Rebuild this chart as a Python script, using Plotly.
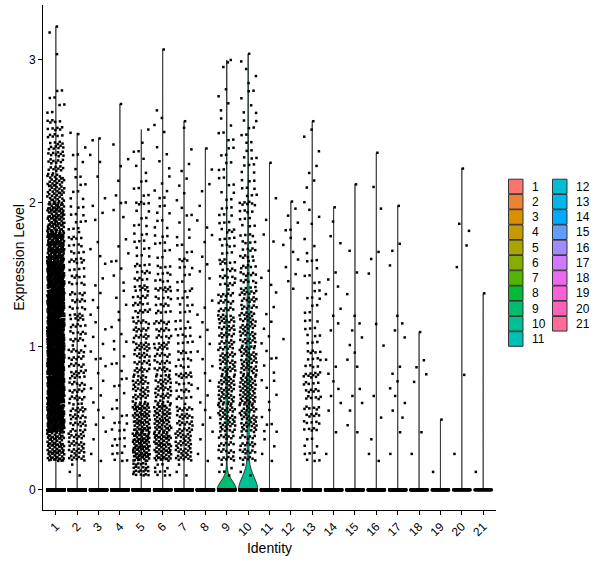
import math
import numpy as np
import plotly.graph_objects as go

# ---------------- data ----------------
clusters = [str(i) for i in range(1, 22)]
bin_edges = [round(0.2 * i, 2) for i in range(18)]  # 0.0 .. 3.4, 17 bins

# number of non-zero cells per 0.2-wide expression bin, per cluster
counts = {
    "1":  [0, 80, 170, 200, 210, 210, 195, 170, 130, 90, 55, 35, 22, 8, 0, 2, 0],
    "2":  [3, 40, 35, 30, 28, 25, 22, 18, 18, 12, 8, 5, 1, 0, 0, 0, 0],
    "3":  [0, 3, 4, 4, 5, 4, 4, 3, 3, 3, 2, 2, 1, 0, 0, 0, 0],
    "4":  [0, 12, 10, 6, 5, 5, 4, 5, 3, 3, 3, 2, 1, 0, 0, 0, 0],
    "5":  [25, 90, 70, 40, 35, 30, 25, 20, 12, 10, 8, 5, 1, 0, 0, 0, 0],
    "6":  [10, 70, 60, 40, 30, 25, 20, 16, 10, 8, 6, 4, 3, 1, 0, 0, 0],
    "7":  [3, 45, 35, 20, 18, 15, 12, 10, 8, 5, 4, 3, 1, 0, 0, 0, 0],
    "8":  [0, 3, 4, 4, 4, 4, 3, 3, 3, 3, 2, 1, 0, 0, 0, 0, 0],
    "9":  [5, 30, 45, 45, 40, 35, 28, 22, 15, 12, 8, 8, 6, 4, 2, 0, 0],
    "10": [3, 30, 45, 50, 45, 40, 35, 25, 18, 14, 12, 10, 8, 6, 4, 0, 0],
    "11": [0, 4, 6, 5, 5, 4, 3, 3, 2, 1, 1, 0, 0, 0, 0, 0, 0],
    "12": [0, 0, 0, 0, 0, 1, 0, 4, 4, 5, 0, 0, 0, 0, 0, 0, 0],
    "13": [0, 10, 22, 22, 18, 12, 9, 7, 4, 3, 3, 3, 2, 0, 0, 0, 0],
    "14": [0, 1, 2, 4, 3, 2, 3, 3, 2, 1, 0, 0, 0, 0, 0, 0, 0],
    "15": [0, 0, 3, 3, 3, 4, 2, 1, 1, 0, 0, 0, 0, 0, 0, 0, 0],
    "16": [0, 3, 1, 1, 0, 2, 0, 1, 2, 1, 1, 0, 0, 0, 0, 0, 0],
    "17": [0, 1, 3, 4, 2, 3, 1, 1, 2, 0, 0, 0, 0, 0, 0, 0, 0],
    "18": [0, 1, 1, 1, 3, 0, 0, 0, 0, 0, 0, 0, 0, 0, 0, 0, 0],
    "19": [1, 0, 0, 0, 0, 0, 0, 0, 0, 0, 0, 0, 0, 0, 0, 0, 0],
    "20": [0, 1, 0, 0, 1, 0, 0, 1, 1, 2, 0, 0, 0, 0, 0, 0, 0],
    "21": [1, 0, 0, 0, 0, 0, 0, 0, 0, 0, 0, 0, 0, 0, 0, 0, 0],
}
# highest value per cluster (top of each violin)
max_values = [3.23, 2.48, 2.45, 2.69, 2.42, 3.07, 2.57, 2.38, 2.98, 3.04, 2.28,
              2.01, 2.57, 1.97, 2.13, 2.35, 1.98, 1.10, 0.49, 2.24, 1.37]
# number of cells with zero expression per cluster
zero_counts = [800, 600, 500, 500, 600, 500, 450, 400, 400, 350, 300,
               250, 250, 200, 200, 150, 150, 120, 100, 80, 60]

# ---------------- style ----------------
bandwidths = [0.004] * 21
bandwidths[8] = 0.06
bandwidths[9] = 0.09
JITTER = 0.8
VWIDTH = 0.9
A1, A2 = 0.7548776662466927, 0.5698402909980532  # R2 low-discrepancy sequence


def hcl_hex(h, c=100.0, l=65.0):
    Xn, Yn, Zn = 95.047, 100.0, 108.883
    un = 4 * Xn / (Xn + 15 * Yn + 3 * Zn)
    vn = 9 * Yn / (Xn + 15 * Yn + 3 * Zn)
    hr = math.radians(h)
    u, v = c * math.cos(hr), c * math.sin(hr)
    Y = Yn * ((l + 16) / 116) ** 3 if l > 8 else Yn * l / 903.3
    up = u / (13 * l) + un
    vp = v / (13 * l) + vn
    X = 9.0 * Y * up / (4 * vp)
    Z = -X / 3 - 5 * Y + 3 * Y / vp
    X, Y, Z = X / 100, Y / 100, Z / 100
    r = 3.240479 * X - 1.537150 * Y - 0.498535 * Z
    g = -0.969256 * X + 1.875992 * Y + 0.041556 * Z
    b = 0.055648 * X - 0.204043 * Y + 1.057311 * Z

    def gam(t):
        t = 12.92 * t if t <= 0.0031308 else 1.055 * t ** (1 / 2.4) - 0.055
        return int(round(min(max(t, 0), 1) * 255))

    return "#%02X%02X%02X" % (gam(r), gam(g), gam(b))


n = len(clusters)
hues = [15 + 360 * i / n for i in range(n)]
colors = [hcl_hex(h) for h in hues]

fig = go.Figure()

all_x, all_y = [], []
for k, cl in enumerate(clusters):
    pos = k + 1
    vals, xs = [], []
    for i in range(zero_counts[k]):
        vals.append(0.0)
        xs.append(pos + ((i + 0.5) / zero_counts[k] - 0.5) * JITTER)
    j = 0
    for b, cnt in enumerate(counts[cl]):
        lo, hi = bin_edges[b], bin_edges[b + 1]
        if b == 0:
            lo = 0.1
        for i in range(cnt):
            j += 1
            fy = (0.5 + j * A1) % 1.0
            fx = (0.5 + j * A2) % 1.0
            vals.append(lo + fy * (hi - lo))
            xs.append(pos + (fx - 0.5) * JITTER)
    vals.append(max_values[k])
    xs.append(pos + 0.05)
    # violin
    fig.add_trace(go.Violin(
        x=[pos] * len(vals), y=vals, width=VWIDTH, scalemode="width",
        spanmode="hard", bandwidth=bandwidths[k], fillcolor=colors[k],
        line=dict(color="black", width=0.7), points=False,
        box_visible=False, meanline_visible=False, hoverinfo="skip",
        showlegend=False, opacity=1))
    all_x.extend(xs)
    all_y.extend(vals)

fig.add_trace(go.Scatter(
    x=all_x, y=all_y, mode="markers",
    marker=dict(symbol="square", size=2.5, color="black", line=dict(width=0)),
    hoverinfo="skip", showlegend=False))

# ---------------- layout ----------------
L, R, T, B = 43, 104, 5, 58
W, H = 600, 568
pw, ph = W - L - R, H - T - B


def px2paper_x(px):
    return (px - L) / pw


def px2paper_y(py):
    return (H - B - py) / ph


shapes, annotations = [], []
for i, cl in enumerate(clusters):
    col, row = divmod(i, 11)
    bx0 = 508.5 + col * 44
    cy = 186.5 + row * 15.25
    shapes.append(dict(type="rect", xref="paper", yref="paper",
                       x0=px2paper_x(bx0), x1=px2paper_x(bx0 + 14.5),
                       y0=px2paper_y(cy - 7.3), y1=px2paper_y(cy + 7.3),
                       fillcolor=colors[i], line=dict(color="#333333", width=1)))
    annotations.append(dict(xref="paper", yref="paper", x=px2paper_x(bx0 + 21),
                            y=px2paper_y(cy), text=cl, showarrow=False,
                            xanchor="left", yanchor="middle",
                            font=dict(size=12, color="black")))

fig.update_layout(
    width=W, height=H,
    margin=dict(l=L, r=R, t=T, b=B, pad=0),
    paper_bgcolor="white", plot_bgcolor="white",
    font=dict(family="Liberation Sans, Arial, sans-serif", color="black", size=12),
    violinmode="overlay",
    showlegend=False,
    shapes=shapes, annotations=annotations,
    xaxis=dict(range=[0.4, 21.6], tickmode="array",
               tickvals=list(range(1, n + 1)), ticktext=clusters,
               tickangle=-45, ticks="outside", ticklen=4, tickwidth=1,
               tickcolor="black", showline=True, linecolor="black", linewidth=1,
               showgrid=False, zeroline=False,
               tickfont=dict(size=12, color="black"),
               title=dict(text="Identity", font=dict(size=14, color="black"),
                          standoff=4)),
    yaxis=dict(range=[-0.14, 3.38], tickvals=[0, 1, 2, 3],
               ticks="outside", ticklen=4, tickwidth=1, tickcolor="black",
               showline=True, linecolor="black", linewidth=1,
               showgrid=False, zeroline=False,
               tickfont=dict(size=12, color="black"),
               title=dict(text="Expression Level",
                          font=dict(size=14, color="black"), standoff=1)),
)

fig.write_html("out.html")
